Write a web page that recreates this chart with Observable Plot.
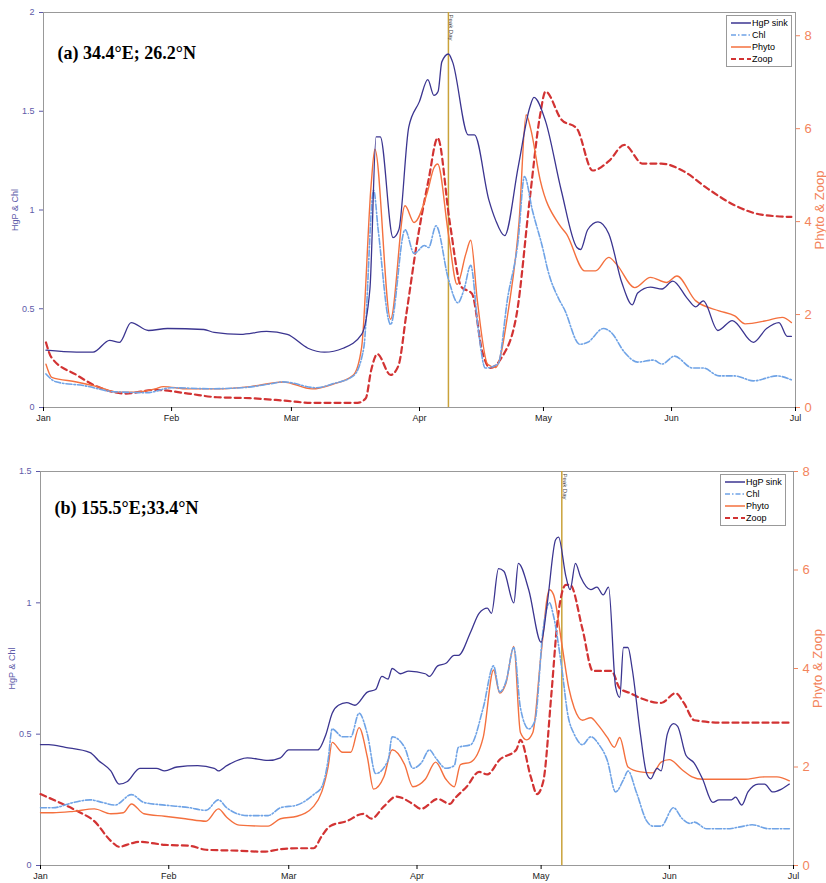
<!DOCTYPE html>
<html><head><meta charset="utf-8">
<script src="https://cdn.jsdelivr.net/npm/d3@7"></script>
<script src="https://cdn.jsdelivr.net/npm/@observablehq/plot@0.6"></script>
<style>body{margin:0;background:#fff;font-family:Arial,Helvetica,sans-serif}
.panel{position:relative;width:826px}
.leg{position:absolute;border:1px solid #999;background:#fff;font:9px Arial;padding:1px 3px;line-height:12px}
.leg div{display:flex;align-items:center}
</style></head><body>
<div id="a" class="panel"></div><div id="b" class="panel"></div>
<script>
const monthTicks=[0,31,60,91,121,152,182];
const monthLabels=["Jan","Feb","Mar","Apr","May","Jun","Jul"];
const hgpA=[[0.6,0.29],[8,0.28],[12,0.28],[16,0.34],[18.4,0.33],[21.2,0.43],[25.4,0.39],[30,0.40],[38.8,0.395],[41.3,0.38],[47.7,0.37],[54,0.385],[59,0.37],[64,0.30],[68,0.28],[72.5,0.30],[77,0.37],[79,0.6],[80.5,1.37],[81.5,1.37],[84.6,0.86],[86,0.9],[88.4,1.42],[91,1.55],[93,1.66],[94.5,1.58],[95.5,1.6],[96.4,1.75],[98,1.79],[99,1.75],[102.8,1.38],[104.3,1.38],[107.8,1.05],[109.4,0.95],[111.6,0.87],[114.9,1.22],[117.7,1.52],[118.7,1.57],[121.5,1.45],[125.3,1.1],[129.1,0.81],[130,0.8],[131.7,0.9],[134.2,0.94],[136.8,0.88],[140,0.63],[142.5,0.52],[143.8,0.58],[146.9,0.61],[149.7,0.6],[152.3,0.64],[155.9,0.55],[157.8,0.51],[159.7,0.54],[163.2,0.39],[166.7,0.44],[171.8,0.33],[175,0.4],[178,0.43],[180,0.36],[181,0.36]];
const chlA=[[0.6,0.17],[3,0.13],[10,0.11],[17,0.08],[25,0.075],[31,0.1],[40,0.095],[48,0.1],[55,0.12],[58,0.13],[66,0.1],[70,0.12],[75,0.16],[77.5,0.3],[79.9,1.1],[81,0.9],[84,0.42],[87.5,0.9],[89.7,0.78],[92.2,0.82],[93.2,0.81],[95,0.92],[98,0.65],[100.3,0.53],[101.8,0.6],[103.4,0.72],[105.2,0.4],[106.9,0.2],[110,0.22],[112.3,0.55],[114.9,0.85],[116.4,1.17],[118.3,1.0],[120.9,0.8],[122,0.7],[124.7,0.55],[126,0.5],[129.8,0.32],[131.7,0.33],[135.5,0.4],[137.4,0.38],[140.6,0.28],[143.8,0.23],[147.6,0.24],[149.7,0.22],[152.7,0.26],[157.1,0.2],[159.7,0.2],[163.5,0.16],[167.3,0.16],[171.8,0.135],[177.5,0.16],[181,0.14]];
const phytoA=[[0.6,0.93],[2,0.65],[8,0.55],[13,0.45],[18,0.33],[22,0.33],[27,0.4],[29,0.45],[35,0.4],[42,0.4],[50,0.45],[58,0.55],[65,0.4],[70,0.5],[75,0.7],[77,1.3],[79.3,4.8],[80.2,5.56],[84,1.9],[87.5,4.34],[89.7,3.98],[92.9,4.63],[94.5,5.16],[95.4,5.24],[98,3.73],[100.1,2.65],[102.2,3.3],[103.4,3.6],[105,2.3],[107.5,0.93],[109.4,0.86],[112.6,2.15],[115.1,4.0],[116.8,6.3],[117.9,6.0],[120.2,4.9],[124.7,3.95],[126.6,3.73],[131,2.94],[133.6,2.94],[136.8,3.23],[138.7,3.08],[143.1,2.58],[146.9,2.8],[150.8,2.69],[153.3,2.83],[157.8,2.3],[163.5,2.08],[167.3,1.97],[169.8,1.8],[175,1.87],[178.8,1.94],[181,1.83]];
const zoopA=[[0.6,1.4],[1.9,1.08],[8,0.7],[13,0.45],[20,0.3],[27,0.38],[35,0.3],[42,0.22],[50,0.2],[58,0.15],[65,0.1],[76,0.1],[78,0.2],[79.3,0.8],[80.8,1.15],[84,0.7],[85.9,0.9],[87.8,2.0],[90.3,3.5],[93.2,4.9],[95.4,5.8],[98.3,4.0],[101.1,2.6],[103.7,2.45],[106.2,1.2],[108.1,0.85],[110.7,1.05],[114.5,2.0],[117.7,4.5],[120.2,6.3],[121.5,6.8],[125.3,6.2],[129.1,6.0],[132.9,5.1],[136.8,5.3],[140.6,5.65],[145,5.25],[149.5,5.25],[154.6,5.1],[160.9,4.7],[167.3,4.35],[173.7,4.15],[181,4.1]];
const hgpB=[[0,0.46],[2,0.46],[6,0.45],[12,0.43],[14,0.40],[17,0.36],[19,0.31],[21,0.32],[24,0.37],[28,0.37],[30,0.36],[33,0.375],[38,0.38],[42,0.37],[43,0.36],[45,0.38],[50,0.41],[55,0.4],[58,0.41],[60,0.44],[66,0.44],[67,0.44],[69,0.5],[70.5,0.58],[72,0.61],[74,0.62],[76,0.61],[79,0.66],[81,0.67],[82.5,0.72],[84,0.71],[85,0.75],[87,0.73],[89,0.74],[93,0.73],[94,0.72],[96,0.76],[98,0.77],[100,0.8],[101,0.8],[104,0.89],[106,0.96],[108,0.98],[109,0.96],[110.7,1.13],[112,1.12],[114.4,1.0],[115.5,1.15],[118,1.05],[121,0.85],[122.5,1.0],[124.5,1.24],[125.2,1.25],[127,1.1],[128,1.05],[129.3,1.15],[130.5,1.1],[133,1.05],[134.5,1.06],[136,1.03],[137.3,1.06],[139,0.68],[140,0.64],[140.9,0.83],[142,0.83],[143,0.75],[145,0.5],[146.5,0.35],[147.5,0.33],[149,0.37],[150,0.36],[151.5,0.5],[153,0.54],[154,0.53],[156,0.42],[158,0.39],[160,0.33],[162.5,0.24],[164,0.25],[167,0.25],[168,0.26],[169.5,0.23],[171,0.28],[173.5,0.31],[175,0.31],[177,0.28],[179,0.29],[181,0.31]];
const chlB=[[0,0.22],[3,0.22],[8,0.24],[12,0.25],[15,0.24],[18,0.23],[22,0.27],[25,0.24],[30,0.23],[36,0.22],[40,0.21],[43,0.25],[45,0.22],[50,0.19],[55,0.19],[58,0.22],[62,0.23],[66,0.27],[68,0.3],[69.5,0.4],[70.5,0.52],[73,0.49],[75,0.49],[77,0.58],[79,0.5],[81,0.35],[84,0.4],[85,0.49],[88,0.45],[90,0.37],[92,0.39],[94,0.44],[95.5,0.41],[98,0.37],[100,0.38],[101,0.45],[104,0.46],[107,0.6],[109.5,0.76],[111,0.66],[112.5,0.7],[114.4,0.83],[116,0.6],[118,0.52],[119.5,0.55],[121.5,0.9],[123,1.0],[124,0.95],[126,0.75],[127.5,0.57],[129,0.5],[131,0.46],[133,0.49],[135,0.46],[137,0.4],[139,0.28],[141,0.33],[142,0.36],[144,0.28],[146.5,0.17],[148,0.15],[150,0.15],[153,0.22],[155,0.18],[157,0.16],[158,0.165],[161,0.14],[166,0.14],[170,0.15],[172,0.155],[176,0.14],[181,0.14]];
const phytoB=[[0,1.07],[3,1.07],[8,1.1],[13,1.15],[17,1.05],[20,1.07],[22,1.25],[25,1.05],[30,1.0],[35,0.95],[40,0.9],[43,1.15],[45,0.98],[48,0.82],[55,0.8],[58,0.95],[62,1.0],[66,1.2],[68,1.5],[69.5,2.0],[70.5,2.5],[73,2.3],[75,2.3],[77,2.8],[79,2.2],[80.5,1.55],[83,1.8],[85,2.35],[88,2.05],[90,1.6],[93,1.75],[95.5,2.1],[98,1.75],[100,1.6],[101.5,2.05],[104,2.1],[107,2.6],[109.5,3.97],[111,3.5],[112.5,3.7],[114.4,4.45],[116,2.7],[117.5,2.55],[119,2.7],[121,4.3],[123,5.6],[124,5.5],[126,4.5],[127.7,3.6],[129,3.2],[131,2.95],[133,3.0],[134.8,2.85],[137,2.6],[138.7,2.4],[140,2.6],[142,2.0],[145,1.9],[148,1.88],[150,2.1],[152,2.15],[155,1.95],[157.5,1.8],[160,1.75],[165,1.75],[170,1.75],[175,1.8],[178,1.8],[181,1.72]];
const zoopB=[[0,1.45],[4,1.3],[9,1.1],[13,0.9],[17,0.5],[19,0.38],[22,0.45],[24,0.48],[30,0.42],[36,0.4],[40,0.32],[48,0.3],[54,0.28],[58,0.33],[62,0.35],[66,0.35],[68,0.6],[70,0.8],[74,0.9],[78,1.05],[80,0.95],[83,1.2],[86,1.4],[90,1.25],[92,1.15],[96,1.35],[99,1.25],[100,1.35],[103,1.6],[106,1.9],[108,1.85],[111,2.15],[115,2.35],[116,2.55],[118.5,1.8],[120,1.45],[121.5,1.7],[123.5,3.5],[125,5.0],[127,5.7],[128,5.7],[131,4.8],[133.5,3.95],[138,3.95],[140,3.6],[142.5,3.5],[145,3.4],[150,3.3],[153.5,3.5],[155.5,3.3],[158,2.95],[165,2.9],[175,2.9],[181,2.9]];
const leftTicksA=[0,0.5,1,1.5,2], rightTicksA=[0,2,4,6,8];
const leftTicksB=[0,0.5,1,1.5], rightTicksB=[0,2,4,6,8];
const cols={hgp:"#3b3590",chl:"#6fa3e6",phyto:"#f4703e",zoop:"#d23333",peak:"#c9a23a",left:"#5d5aa8",right:"#f3845c"};

function panel(el,o){
  const k=o.lmax/o.rmax;
  const pts=(arr,s)=>arr.map(([d,v])=>({d,v:s?v*k:v}));
  const line=(arr,s,stroke,w,dash)=>Plot.line(pts(arr,s),{x:"d",y:"v",stroke,strokeWidth:w,strokeDasharray:dash,curve:"monotone-x"});
  const svg=Plot.plot({
    width:826,height:o.h,marginLeft:o.ml,marginRight:o.mr,marginTop:o.mt,marginBottom:o.mb,
    style:{fontFamily:"Arial",fontSize:"9px"},
    x:{domain:[0,182]},
    y:{domain:[0,o.lmax]},
    marks:[
      Plot.frame({stroke:"#999"}),
      Plot.axisX({ticks:monthTicks,tickFormat:(d,i)=>monthLabels[i],tickSize:4,tickPadding:3,label:null,fill:"#222",fontSize:9}),
      Plot.axisY({ticks:o.lt,tickFormat:d=>String(d),tickSize:4,label:"HgP & Chl",labelAnchor:"center",labelArrow:"none",labelOffset:32,color:cols.left,fill:cols.left,fontSize:9}),
      Plot.axisY({anchor:"right",ticks:o.rt.map(v=>v*k),tickFormat:d=>String(Math.round(d/k)),tickSize:4,label:"Phyto & Zoop",labelAnchor:"center",labelArrow:"none",labelOffset:28,color:cols.right,fill:cols.right,fontSize:13}),
      Plot.ruleX([o.peak],{stroke:cols.peak,strokeWidth:1.5}),
      Plot.text([o.peak],{x:d=>d,frameAnchor:"top",text:()=>"Peak Day",rotate:90,textAnchor:"start",dx:5,dy:2,fontSize:6,fill:"#444"}),
      line(o.zoop,true,cols.zoop,2.2,"6,4"),
      line(o.phyto,true,cols.phyto,1.4,null),
      line(o.chl,false,cols.chl,1.6,"6,2,1.5,2"),
      line(o.hgp,false,cols.hgp,1.3,null),
      Plot.text([o.title],{frameAnchor:"top-left",dx:14,dy:o.tdy,text:d=>d,fontFamily:"Liberation Serif",fontWeight:"bold",fontSize:18,textAnchor:"start",fill:"#000"})
    ]});
  el.appendChild(svg);
  const leg=document.createElement("div");leg.className="leg";
  leg.style.left=o.lx+"px";leg.style.top=o.ly+"px";
  const items=[["HgP sink",cols.hgp,"",1.5],["Chl",cols.chl,"5,2,1.5,2",1.5],["Phyto",cols.phyto,"",1.5],["Zoop",cols.zoop,"5,3",2.2]];
  leg.innerHTML=items.map(([t,c,da,w])=>`<div><svg width="22" height="10"><line x1="1" x2="21" y1="5" y2="5" stroke="${c}" stroke-width="${w}" stroke-dasharray="${da}"/></svg><span>${t}</span></div>`).join("");
  el.appendChild(leg);
}
panel(document.getElementById("a"),{h:440,ml:43,mr:31,mt:12,mb:33,lmax:2,rmax:8.5,lt:leftTicksA,rt:rightTicksA,peak:98,hgp:hgpA,chl:chlA,phyto:phytoA,zoop:zoopA,title:"(a) 34.4°E; 26.2°N",tdy:34,lx:726,ly:15});
panel(document.getElementById("b"),{h:443,ml:40,mr:33,mt:31,mb:18,lmax:1.5,rmax:8,lt:leftTicksB,rt:rightTicksB,peak:126,hgp:hgpB,chl:chlB,phyto:phytoB,zoop:zoopB,title:"(b) 155.5°E;33.4°N",tdy:30,lx:720,ly:34});
</script></body></html>
